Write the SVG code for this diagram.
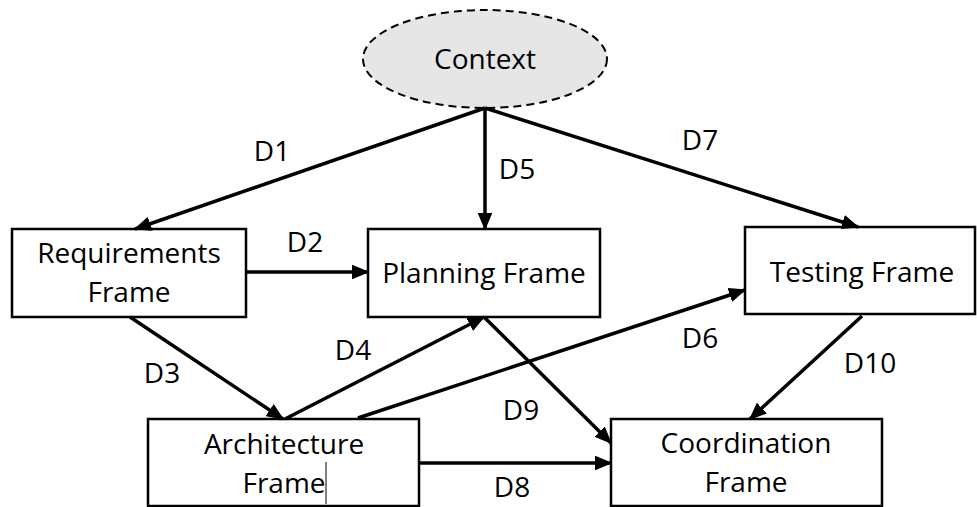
<svg xmlns="http://www.w3.org/2000/svg" width="977" height="507" viewBox="0 0 977 507">
<style>
.box{fill:#fff;stroke:#000;stroke-width:2.5}
.t{font-family:"Open Sans","Liberation Sans",sans-serif;font-size:28px;fill:#000;text-anchor:middle}
.e{stroke:#000;stroke-width:3.5;fill:none;marker-end:url(#ah)}
</style>
<defs>
<marker id="ah" markerWidth="5" markerHeight="4.2" refX="4.6" refY="2.1" orient="auto" markerUnits="strokeWidth">
<path d="M0,0 L5,2.1 L0,4.2 Z" fill="#000"/>
</marker>
</defs>
<g id="context">
<ellipse cx="485" cy="59" rx="122" ry="49" fill="#e6e6e6" stroke="#000" stroke-width="2" stroke-dasharray="8,5"/>
<text class="t" x="485" y="69">Context</text>
</g>
<g id="requirements">
<rect class="box" x="12" y="229" width="234" height="88"/>
<text class="t" x="129" y="263">Requirements</text>
<text class="t" x="129" y="302">Frame</text>
</g>
<g id="planning">
<rect class="box" x="368" y="229" width="232" height="88"/>
<text class="t" x="484" y="283">Planning Frame</text>
</g>
<g id="testing">
<rect class="box" x="745" y="227" width="230" height="87"/>
<text class="t" x="862" y="282">Testing Frame</text>
</g>
<g id="architecture">
<rect class="box" x="148" y="419" width="271" height="87"/>
<text class="t" x="284" y="454">Architecture</text>
<text class="t" x="284" y="493">Frame</text>
<line x1="326" y1="462" x2="326" y2="504" stroke="#000" stroke-width="1"/>
</g>
<g id="coordination">
<rect class="box" x="611" y="419" width="271" height="87"/>
<text class="t" x="746" y="453">Coordination</text>
<text class="t" x="746" y="492">Frame</text>
</g>
<g id="connectors">
<line class="e" x1="485" y1="108" x2="135" y2="229"/>
<line class="e" x1="485" y1="108" x2="485" y2="229"/>
<line class="e" x1="485" y1="108" x2="858" y2="227"/>
<line class="e" x1="246" y1="272" x2="368" y2="272"/>
<line class="e" x1="130" y1="317" x2="283" y2="419"/>
<line class="e" x1="285" y1="419" x2="484" y2="317"/>
<line class="e" x1="484" y1="317" x2="611" y2="443"/>
<line class="e" x1="358" y1="418" x2="745" y2="290"/>
<line class="e" x1="419" y1="463" x2="611" y2="463"/>
<line class="e" x1="862" y1="316" x2="750" y2="419"/>
</g>
<g id="labels">
<text class="t" x="272" y="161">D1</text>
<text class="t" x="517" y="179">D5</text>
<text class="t" x="700" y="150">D7</text>
<text class="t" x="305" y="252">D2</text>
<text class="t" x="162" y="383">D3</text>
<text class="t" x="353" y="360">D4</text>
<text class="t" x="521" y="420">D9</text>
<text class="t" x="700" y="348">D6</text>
<text class="t" x="512" y="497">D8</text>
<text class="t" x="870" y="373">D10</text>
</g>
</svg>
